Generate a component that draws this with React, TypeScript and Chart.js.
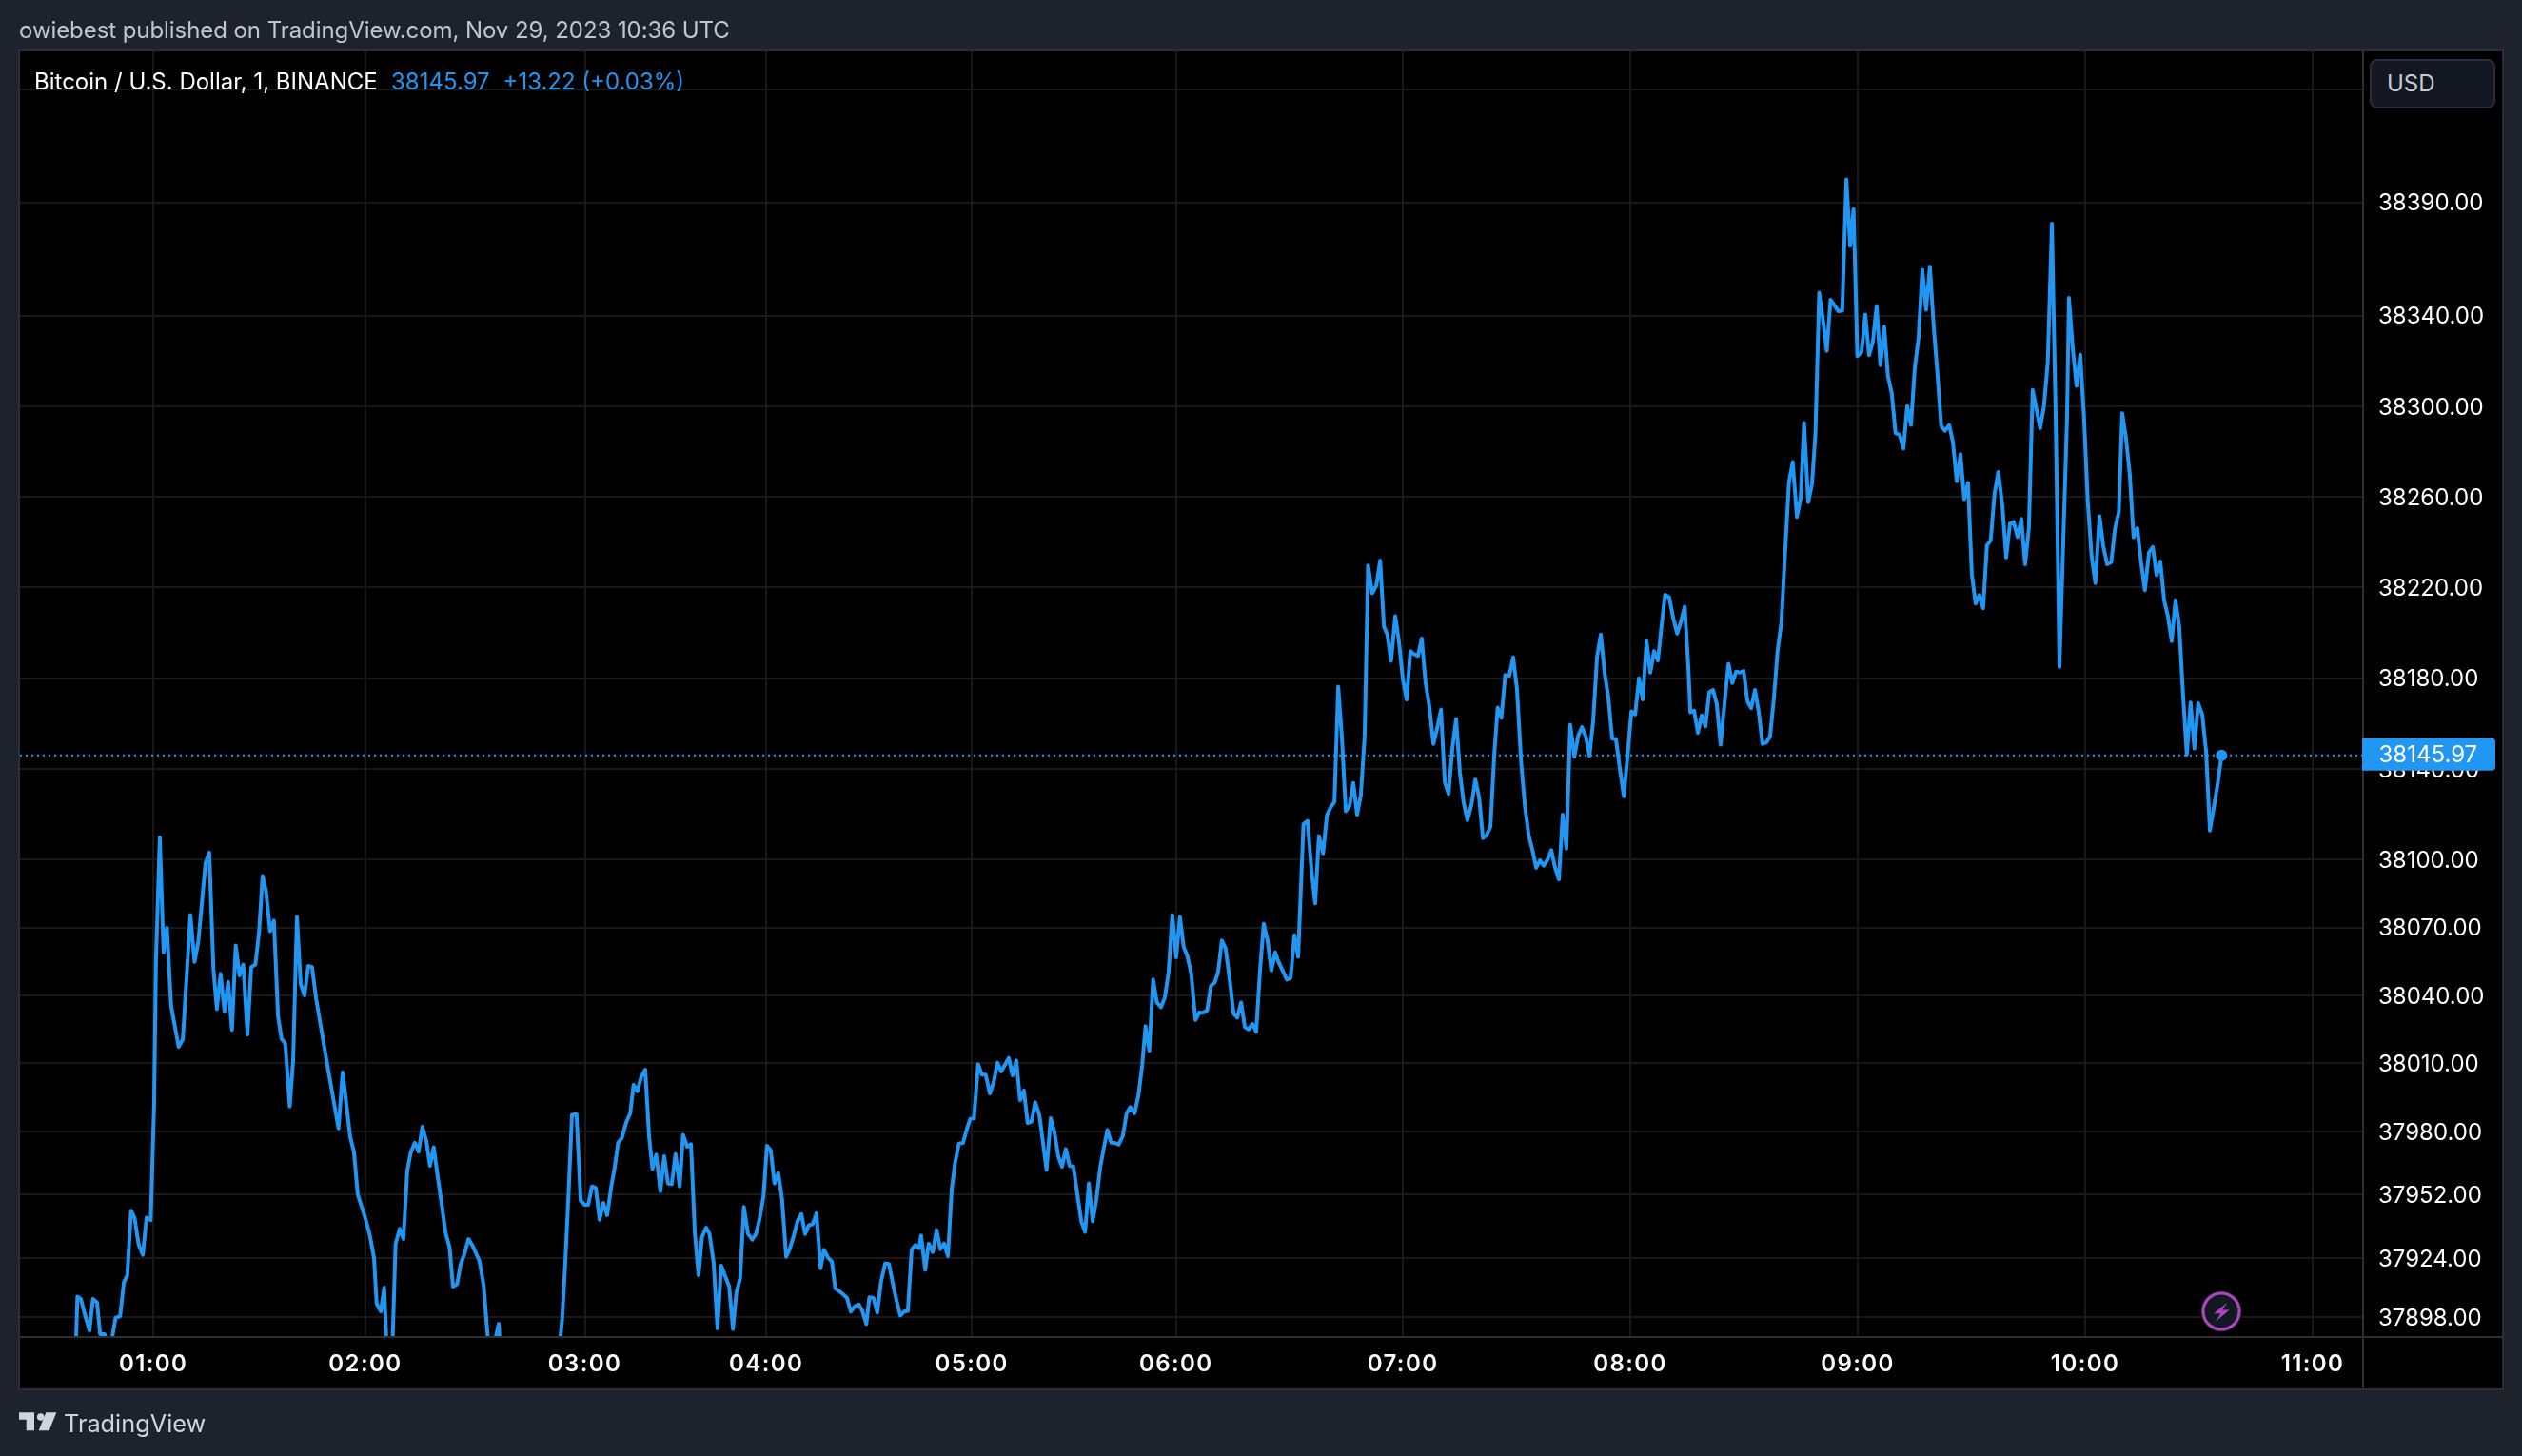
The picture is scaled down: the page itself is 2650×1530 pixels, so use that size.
import React, { useEffect, useRef } from "react";
import { Chart, registerables } from "chart.js";

Chart.register(...registerables);

// [bar position, close price], one list per stretch of the session
const session0045: [number, number][] = [[14.5,37870],[15.2,37907],[16.1,37906],[17.2,37899],[18.4,37892],[19.3,37906],[20.4,37904.4],[21.2,37890.5],[22.4,37890.5],[23,37886],[24,37885],[25.3,37897.7],[26.5,37898.4],[27.5,37913.4],[28.4,37916.4],[29.4,37945],[30.3,37942],[31.4,37930],[32.5,37925.5],[33.5,37942],[34.6,37940.8],[35.5,37991.8],[36,38056],[37,38109.7]];
const session0100: [number, number][] = [[38,38059],[38.9,38069.8],[40,38035.3],[42,38017.3],[43.1,38020.6],[45.1,38075.5],[46.2,38054.8],[47.2,38063.8],[49.1,38098.3],[50.1,38103],[51.2,38051.8],[52.1,38034],[53.1,38049.5],[54.1,38033],[55.1,38046],[56.1,38024.8],[57.1,38062],[58.1,38048.8],[59.1,38053.6],[60.2,38022.7],[61.2,38052.5],[62.3,38053.6],[63.3,38068.3],[64.2,38092.7],[65.1,38086.3],[66.2,38068.3],[67.2,38073],[68.3,38030.8],[69.2,38021],[70.2,38018.8],[71.4,37991],[72.3,38011.3],[73.3,38074.6],[74.3,38045],[75.3,38040],[76.3,38053],[77.3,38052.5],[78.4,38038.3],[81.3,38009.8],[84.3,37981.3],[85.4,38006],[87.4,37977.5],[88.4,37970.8],[89.4,37952]];
const session0200: [number, number][] = [[91.3,37942.3],[92.6,37934],[93.7,37924.2],[94.4,37904],[95.5,37900.5],[96.4,37911],[97.3,37875],[98.4,37875],[99.4,37930.3],[100.5,37937],[101.5,37932.5],[102.5,37962.5],[103.4,37970.5],[104.5,37975],[105.5,37971],[106.5,37982],[107.6,37975.3],[108.5,37964.8],[109.5,37973],[110.6,37959.5],[111.7,37946.8],[112.6,37935.5],[113.7,37928.8],[114.6,37911.5],[115.7,37912.5],[116.6,37921.2],[117.6,37925.8],[118.7,37932.4],[119.8,37929.5],[121.6,37922.8],[122.7,37912.3],[124,37885],[125.4,37885],[126.7,37895],[127.3,37880],[142.5,37880],[143.5,37897.2],[144.3,37921.2],[145.2,37952.8],[146.1,37987.3],[147.3,37987.6],[148.4,37949.4]];
const session0300: [number, number][] = [[149.4,37947.6],[150.4,37947.6],[151.4,37955.7],[152.4,37955],[153.4,37941],[154.4,37948.4],[155.4,37943],[156.5,37955.7],[157.4,37964],[158.3,37975],[159.3,37977],[160.4,37983.7],[161.5,37987.9],[162.4,38000.5],[163.4,37997.7],[164.4,38004],[165.5,38007.2],[166.5,37978],[167.4,37963.4],[168.4,37969.7],[169.5,37953.6],[170.5,37969],[171.5,37957],[172.5,37956.7],[173.5,37970],[174.6,37955.7],[175.5,37978.5],[176.6,37973.2],[177.6,37974.3],[178.6,37935.4],[179.6,37916.5],[180.5,37933.3],[181.6,37937.5],[182.5,37934.7],[183.6,37922],[184.6,37893],[185.6,37920.7],[186.7,37915.8],[187.7,37911.6],[188.7,37892.7],[189.6,37908.8],[190.6,37915],[191.6,37946.6],[192.7,37934.7],[193.8,37932.2],[194.8,37934.7],[195.8,37941.7],[196.8,37951.5]];
const session0400: [number, number][] = [[197.7,37973.6],[198.7,37971.6],[199.7,37957],[200.7,37961.6],[201.7,37950],[202.8,37924.6],[203.8,37928.4],[204.8,37934],[205.8,37940.3],[206.8,37943.5],[207.8,37934.7],[208.8,37938.6],[209.8,37939],[210.8,37943.8],[211.9,37919.6],[212.8,37927.7],[213.9,37924.2],[214.9,37922.4],[215.8,37910.6],[216.8,37909.5],[217.9,37908],[218.9,37906.4],[219.9,37900.4],[221,37902.8],[222,37903.6],[222.9,37901],[224,37894.9],[224.8,37906.7],[225.9,37906.4],[226.9,37900],[227.9,37913.7],[229,37921.7],[230,37921.4],[231,37913],[232,37905.3],[233,37898.7],[234,37900.4],[235,37900.7],[236,37927.7],[237,37929.8],[238,37928.4],[238.5,37934],[239.6,37918.9],[240.5,37930.5],[241.6,37926.7],[242.6,37936.4],[243.6,37928],[244.6,37930.5],[245.6,37924.9],[246.6,37954.3],[247.5,37966.2],[248.5,37974.6],[249.6,37974.9],[250.6,37980.9],[251.5,37985.5]];
const session0500: [number, number][] = [[252.5,37985.8],[253.6,38009.6],[254.6,38005],[255.6,38005],[256.7,37996.7],[257.7,38001.6],[258.7,38010.3],[259.7,38006.4],[261.7,38012.4],[262.7,38004.7],[263.7,38011.3],[264.7,37993.8],[265.7,37998],[266.7,37983.7],[267.7,37984.3],[268.7,37992.8],[269.8,37987.2],[271.7,37963],[272.8,37985.8],[273.8,37979.5],[274.8,37969],[275.8,37964.4],[276.8,37972.2],[277.8,37964.8],[278.8,37964.4],[279.8,37952.9],[280.9,37940.3],[281.9,37935.6],[282.9,37957],[283.9,37940.3],[284.9,37950],[285.9,37964],[286.9,37973],[287.8,37980.6],[288.8,37975],[289.8,37974.9],[290.8,37974.2],[291.9,37978],[292.9,37988],[293.9,37990.7],[295,37988],[296,37995.6],[297,38008.9],[297.9,38026.4],[298.9,38015.6],[299.9,38047],[300.9,38036.9],[302,38034.8],[303,38039],[304,38050.2],[305,38075.5]];
const session0600: [number, number][] = [[306,38056.8],[307,38074.7],[308,38061.4],[309,38057.2],[310,38049.5],[311.1,38029.2],[312.1,38032.4],[313.1,38032.3],[314.2,38033.4],[315.2,38044.2],[316.2,38045.7],[317.1,38050.2],[318.1,38064.2],[319.1,38060.7],[320.2,38046.7],[321.2,38032],[322.2,38030.2],[323.2,38036.9],[324.2,38026],[325.2,38025],[326.2,38027.4],[327.2,38024],[328.2,38050.9],[329.2,38071.6],[330.2,38064.2],[331.2,38051],[332.2,38059],[333.2,38054.4],[335.3,38047],[336.3,38047.7],[337.3,38066.6],[338.3,38057],[339.7,38115.6],[340.8,38117],[341.8,38095.7],[342.8,38080.6],[343.8,38110.4],[344.9,38102.7],[345.9,38119.5],[346.9,38123],[347.9,38125.4],[348.9,38176.3],[349.9,38153],[350.9,38121.3],[351.9,38123.7],[352.9,38133.8],[353.9,38119.8],[354.9,38128.6],[355.9,38154.5],[356.8,38229.7],[357.9,38217.5],[359,38221],[360,38231.9],[361,38202.8],[361.9,38199.3],[362.9,38187.7],[364,38207.4],[365,38195.8]];
const session0700: [number, number][] = [[366,38179.7],[367,38170.6],[368,38191.9],[369,38190.6],[370,38189.9],[371,38197.5],[372,38178.3],[373,38167.8],[374.1,38151],[375.1,38158],[376.1,38166.1],[377.1,38134.2],[378.1,38129],[379.1,38148.9],[380.1,38162],[381.1,38138.4],[382.1,38125.1],[383.1,38117.4],[384.2,38124.4],[385.2,38135.3],[386.2,38127.2],[387.2,38109.4],[388.2,38110.8],[389.2,38114.6],[390.2,38146.1],[391.1,38167.1],[392.1,38162.5],[393.1,38181.4],[394.2,38181.1],[395.2,38189.2],[396.2,38175.5],[397.3,38143.3],[398.3,38123.7],[399.3,38110.8],[400.3,38104.1],[401.3,38096.4],[402.3,38099.6],[403.3,38097.3],[404.3,38099.9],[405.3,38104.1],[406.3,38096.4],[407.3,38091.2],[408.3,38119.8],[409.3,38104.8],[410.3,38159.5],[411.4,38145.4],[412.4,38154.5],[413.4,38158.4],[414.4,38154.5],[415.4,38145.8],[416.4,38161.5],[417.4,38189.5],[418.4,38199.3],[419.4,38182.5],[420.4,38171.3],[421.4,38153.4],[422.4,38153.1],[423.4,38140.5],[424.5,38127.9],[425.5,38146.1]];
const session0800: [number, number][] = [[426.5,38165.4],[427.5,38164],[428.5,38180],[429.5,38170.6],[430.5,38196.5],[431.5,38182.5],[432.5,38192],[433.5,38187.8],[434.5,38203.5],[435.4,38216.8],[436.5,38215.7],[437.6,38206.3],[438.6,38199.7],[439.6,38204.9],[440.6,38211.6],[441.6,38183.9],[442.1,38165],[443.1,38165.7],[444.1,38155.9],[445.1,38163.6],[446.1,38158.7],[447.1,38173.8],[448.1,38174.8],[449.1,38168.5],[450.1,38150.7],[451.2,38169.9],[452.2,38186.4],[453.2,38177.9],[454.2,38182.9],[455.2,38182.5],[456.2,38183.2],[457.2,38169.9],[458.2,38166.8],[459.2,38174.8],[460.2,38165],[461.2,38151],[462.2,38151.7],[463.2,38154.3],[464.2,38171],[465.2,38192.3],[466.2,38204.7],[467.1,38233],[468.2,38266.6],[469.2,38275.4],[470.3,38251.2],[471.3,38259.5],[472.2,38292.7],[473.3,38257.7],[474.3,38265.7],[475.2,38287.8],[476.2,38350.2],[477.2,38338.2],[478.2,38324.5],[479.2,38347],[480.2,38344.7],[481.3,38342],[482.3,38342.2],[483.4,38400.2],[484.4,38370.9],[485.3,38387.1]];
const session0900: [number, number][] = [[486.3,38322.2],[487.4,38324],[488.4,38340.5],[489.4,38322.6],[490.4,38328.4],[491.4,38344.3],[492.4,38318.2],[493.4,38335.2],[494.4,38313.4],[495.4,38305.8],[496.4,38288.3],[497.5,38287.4],[498.5,38281.4],[499.5,38300.1],[500.5,38291.8],[501.5,38317],[502.5,38330.2],[503.5,38360.3],[504.5,38342.6],[505.5,38361.7],[506.5,38335.5],[507.5,38314.3],[508.5,38291.3],[509.5,38289.2],[510.6,38291.8],[511.6,38284.2],[512.6,38266.9],[513.6,38278.9],[514.6,38259],[515.6,38266.2],[516.6,38225.9],[517.6,38213],[518.6,38216.7],[519.6,38210.9],[520.6,38238.6],[521.6,38240.9],[522.6,38261.3],[523.6,38271],[524.7,38256],[525.7,38233.3],[526.7,38248.3],[527.7,38248.9],[528.7,38242.3],[529.7,38250.3],[530.7,38230.3],[531.7,38246.2],[532.7,38307.2],[533.7,38298.7],[534.7,38290.4],[535.7,38300.1],[536.7,38319.6],[537.8,38380.6],[538.8,38295],[539.8,38185],[540.8,38240],[541.8,38295],[542.3,38347.9],[543.3,38325.8],[544.3,38309],[545.3,38322.8]];
const session1000: [number, number][] = [[546.3,38294.8],[547.3,38257.7],[548.3,38233.8],[549.3,38222],[550.4,38251.5],[551.4,38238.3],[552.4,38230.3],[553.5,38231.2],[554.5,38246.2],[555.5,38253.3],[556.4,38297],[557.4,38286],[558.4,38270.1],[559.4,38242.2],[560.4,38246.2],[561.4,38231.2],[562.4,38218.8],[563.5,38235.6],[564.5,38237.9],[565.5,38225.4],[566.5,38231.5],[567.5,38214.4],[568.5,38207.3],[569.5,38196.4],[570.5,38214.4],[571.5,38202.9],[572.5,38172.9],[573.5,38146.3],[574.5,38169.3],[575.5,38149],[576.5,38169],[577.6,38163.8],[578.6,38147.8],[579.6,38112.8],[580.7,38123.5],[581.7,38133.8],[582.7,38145.97]];

const priceTicks = [38440, 38390, 38340, 38300, 38260, 38220, 38180, 38140, 38100, 38070, 38040, 38010, 37980, 37952, 37924, 37898];
const hourTicks = [35.3, 91.4, 149.5, 197.5, 251.9, 306, 366, 426.2, 486.4, 546.6, 606.8];
const hourLabels = ["01:00", "02:00", "03:00", "04:00", "05:00", "06:00", "07:00", "08:00", "09:00", "10:00", "11:00"];
const lastPrice = 38145.97;
const symbolTitle = "Bitcoin / U.S. Dollar, 1, BINANCE";
const lastChange = "+13.22 (+0.03%)";
const publishedLine = "owiebest published on TradingView.com, Nov 29, 2023 10:36 UTC";

const BLUE = "#2196f3";
const PAGE = "#1e222d";
const FONT = "Inter, 'Noto Sans', sans-serif";

// Nudges a scale's tick labels and sets their tracking while the library draws them.
const tuneLabels = (scale: any, dy: number, spacing: string) => {
  if (scale.__tuned) return;
  scale.__tuned = true;
  const original = scale.drawLabels.bind(scale);
  scale.drawLabels = (area: any) => {
    const c = scale.ctx;
    c.save();
    c.translate(0, dy);
    c.letterSpacing = spacing;
    original(area);
    c.restore();
  };
};

const backdrop = {
  id: "backdrop",
  beforeDraw(chart: any) {
    tuneLabels(chart.scales.y, 1.5, "0px");
    tuneLabels(chart.scales.x, 0, "1.4px");
    const c = chart.ctx;
    c.save();
    c.fillStyle = PAGE;
    c.fillRect(0, 0, 2650, 1530);
    c.fillStyle = "#000000";
    c.fillRect(20, 53, 2610, 1407);
    c.restore();
  },
  afterDraw(chart: any) {
    const c = chart.ctx;
    const { right, bottom } = chart.chartArea;
    c.save();
    c.strokeStyle = "#2f2f2f";
    c.lineWidth = 2;
    c.beginPath();
    c.moveTo(20, bottom);
    c.lineTo(2630, bottom);
    c.moveTo(right, 53);
    c.lineTo(right, 1460);
    c.stroke();
    c.strokeStyle = "#2a2e39";
    c.strokeRect(20, 53, 2610, 1407);
    const y = chart.scales.y.getPixelForValue(lastPrice);
    c.fillStyle = BLUE;
    c.beginPath();
    c.roundRect(right - 1, y - 18, 140, 34, [0, 4, 4, 0]);
    c.fill();
    c.fillStyle = "#ffffff";
    c.font = `400 24px ${FONT}`;
    c.textBaseline = "middle";
    c.textAlign = "left";
    c.fillText(lastPrice.toFixed(2), 2499.5, y);
    c.restore();
  },
};

export default function App() {
  const ref = useRef<HTMLCanvasElement>(null);
  useEffect(() => {
    document.body.style.margin = "0";
    const line = [...session0045, ...session0100, ...session0200, ...session0300, ...session0400, ...session0500, ...session0600, ...session0700, ...session0800, ...session0900, ...session1000].map(([x, y]) => ({ x, y }));
    const xMax = 620.15;
    const chart = new Chart(ref.current!, {
      type: "line",
      data: {
        datasets: [
          {
            data: line,
            borderColor: BLUE,
            backgroundColor: BLUE,
            borderWidth: 4,
            tension: 0,
            borderJoinStyle: "round",
            clip: 0,
            order: 1,
            pointBorderWidth: 0,
            pointRadius: (ctx: any) => (ctx.dataIndex === line.length - 1 ? 6 : 0),
          },
          {
            data: [{ x: 0, y: lastPrice }, { x: xMax, y: lastPrice }],
            borderColor: BLUE,
            borderWidth: 2,
            borderDash: [2, 4],
            pointRadius: 0,
            tension: 0,
            clip: 0,
            order: 2,
          },
        ],
      },
      plugins: [backdrop],
      options: {
        animation: false,
        responsive: false,
        devicePixelRatio: 1,
        layout: { padding: { left: 21, top: 53, right: 20, bottom: 70 } },
        plugins: { legend: { display: false }, tooltip: { enabled: false }, title: { display: false } },
        scales: {
          x: {
            type: "linear",
            min: 0,
            max: xMax,
            afterBuildTicks: (s: any) => { s.ticks = hourTicks.map((value) => ({ value })); },
            afterFit: (s: any) => { s.height = 55; },
            grid: { color: "#181818", lineWidth: 2, drawTicks: false },
            border: { display: false },
            ticks: {
              autoSkip: false,
              maxRotation: 0,
              padding: 14,
              color: "#ffffff",
              font: { family: FONT, size: 24, weight: 600 },
              callback: (v: any) => { const i = hourTicks.indexOf(v); return i >= 0 ? hourLabels[i] : ""; },
            },
          },
          y: {
            type: "linear",
            position: "right",
            min: 37889.2,
            max: 38457.1,
            afterBuildTicks: (s: any) => { s.ticks = priceTicks.map((value) => ({ value })); },
            afterFit: (s: any) => { s.width = 147; },
            grid: { color: "#181818", lineWidth: 2, drawTicks: false },
            border: { display: false },
            ticks: {
              autoSkip: false,
              padding: 16,
              color: "#ffffff",
              font: { family: FONT, size: 24, weight: 400 },
              callback: (v: any) => (v === 38440 ? "" : Number(v).toFixed(2)),
            },
          },
        },
      },
    } as any);
    return () => chart.destroy();
  }, []);

  const text = (left: number, cy: number, color: string, size: number, s: string, extra: any = {}) => (
    <div style={{ position: "absolute", left, top: cy - 20, height: 40, lineHeight: "40px", color, fontSize: size, fontFamily: FONT, whiteSpace: "nowrap", ...extra }}>{s}</div>
  );

  return (
    <div style={{ position: "absolute", left: 0, top: 0, width: 2650, height: 1530, overflow: "hidden", background: PAGE }}>
      <canvas ref={ref} width={2650} height={1530} style={{ position: "absolute", left: 0, top: 0, display: "block" }} />
      {text(20, 32, "#c3c5ce", 24, publishedLine, { letterSpacing: "-0.07px" })}
      {text(36, 86, "#ffffff", 24, symbolTitle)}
      {text(411, 86, BLUE, 24, lastPrice.toFixed(2))}
      {text(528.5, 86, BLUE, 24, lastChange)}
      <div style={{ position: "absolute", left: 2490, top: 62, width: 132, height: 52, boxSizing: "border-box", background: "#131722", border: "2px solid #2a2e39", borderRadius: 8 }} />
      {text(2508, 88, "#c8cad6", 24, "USD")}
      {text(67, 1496, "#d1d4dc", 25.3, "TradingView")}
      <svg width={2650} height={1530} style={{ position: "absolute", left: 0, top: 0, pointerEvents: "none" }}>
        <circle cx={2334} cy={1378} r={21.5} fill="#1e222d" />
        <circle cx={2334} cy={1378} r={19} fill="#131722" stroke="#ab47bc" strokeWidth={3} />
        <polygon points="2340.7,1368.6 2326,1380.3 2333.3,1380.3 2328.3,1388.6 2342.7,1376.6 2335,1376.6" fill="#ab47bc" />
        <polygon points="20,1484.3 36,1484.3 36,1503.3 27.7,1503.3 27.7,1491.7 20,1491.7" fill="#d1d4dc" />
        <circle cx={42.7} cy={1489} r={3.8} fill="#d1d4dc" />
        <polygon points="48.3,1484.3 59.3,1484.3 51.7,1503.3 40.7,1503.3" fill="#d1d4dc" />
      </svg>
    </div>
  );
}
